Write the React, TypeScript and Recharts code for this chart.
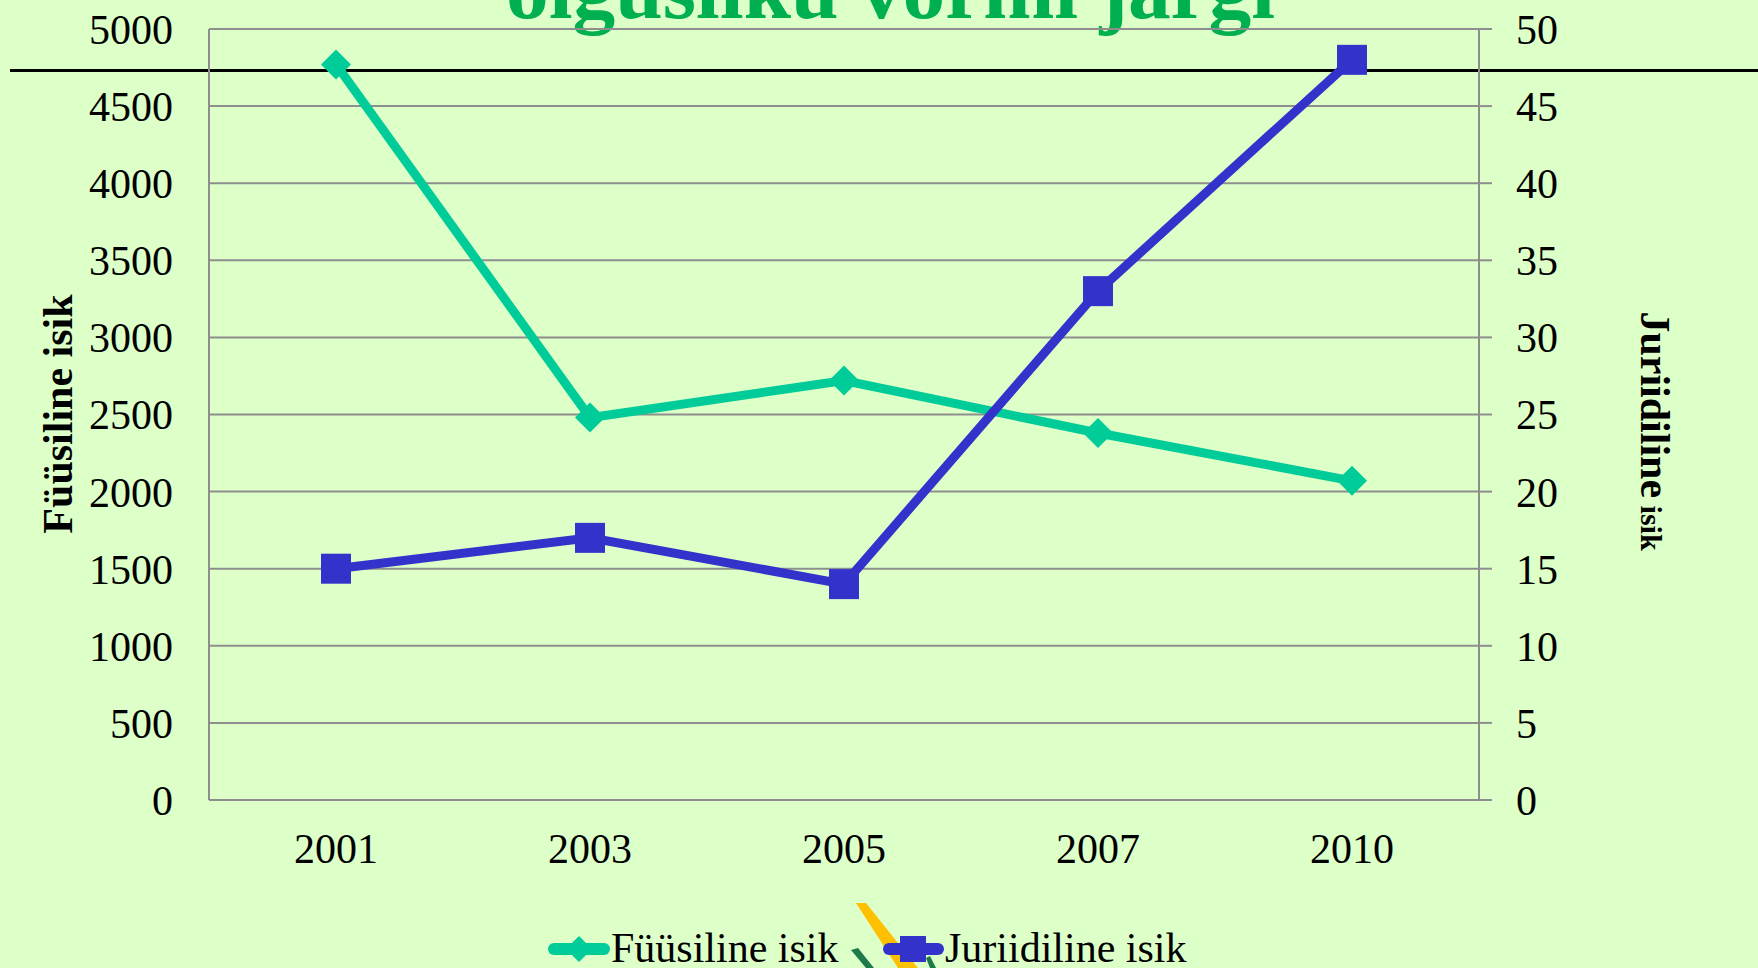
import React from 'react'
import {
  LineChart, Line, XAxis, YAxis, CartesianGrid,
} from 'recharts'

const years = ['2001', '2003', '2005', '2007', '2010']
const fyysiline = [4770, 2480, 2720, 2380, 2070]
const juriidiline = [15, 17, 14, 33, 48]
const leftTicks = [0, 500, 1000, 1500, 2000, 2500, 3000, 3500, 4000, 4500, 5000]
const rightTicks = [0, 5, 10, 15, 20, 25, 30, 35, 40, 45, 50]

const TEAL = '#00CC99'
const BLUE = '#3333CC'
const BG = '#DDFFC8'
const GRID = '#8E8E8E'
const FONT = '"Liberation Serif", "Times New Roman", serif'

const data = years.map((year, i) => ({
  year,
  fyysiline: fyysiline[i],
  juriidiline: juriidiline[i],
}))

function DiamondDot(props: any) {
  const { cx, cy, index } = props
  if (cx == null || cy == null) return null
  const r = 15
  return (
    <path
      key={`d-${index}`}
      d={`M${cx},${cy - r} L${cx + r},${cy} L${cx},${cy + r} L${cx - r},${cy} Z`}
      fill={TEAL}
    />
  )
}

function SquareDot(props: any) {
  const { cx, cy, index } = props
  if (cx == null || cy == null) return null
  const s = 30
  return <rect key={`s-${index}`} x={cx - s / 2} y={cy - s / 2} width={s} height={s} fill={BLUE} />
}

// slide decorations, axis titles and the legend, drawn behind the chart
function Backdrop() {
  return (
    <svg width={1758} height={968} style={{ position: 'absolute', left: 0, top: 0 }}>
      <rect x={0} y={0} width={1758} height={968} fill={BG} />
      <text
        x={506}
        y={18}
        fontFamily={FONT}
        fontWeight="bold"
        fontSize={84}
        fill="#00B050"
        textLength={769}
        lengthAdjust="spacingAndGlyphs"
      >
        õigusliku vormi järgi
      </text>
      <line x1={10} y1={70.5} x2={1758} y2={70.5} stroke="#000" strokeWidth={3} />
      <text
        x={72}
        y={414}
        transform="rotate(-90, 72, 414)"
        textAnchor="middle"
        fontFamily={FONT}
        fontWeight="bold"
        fontSize={42}
        fill="#000"
      >
        Füüsiline isik
      </text>
      <text
        x={1641}
        y={431}
        transform="rotate(90, 1641, 431)"
        textAnchor="middle"
        fontFamily={FONT}
        fontWeight="bold"
        fill="#000"
      >
        <tspan fontSize={42}>Juriidiline</tspan>
        <tspan fontSize={30}> isik</tspan>
      </text>
      {/* logo fragment */}
      <polygon points="856,903 866,903 918,968 898,968" fill="#FFC000" />
      <polygon points="851,950 858,948 874,968 866,968" fill="#1E7A4A" />
      <polygon points="926,958 930,956 936,968 930,968" fill="#1E7A4A" />
      {/* legend */}
      <line x1={554} y1={949} x2={604} y2={949} stroke={TEAL} strokeWidth={12} strokeLinecap="round" />
      <path d="M579,936 L592,949 L579,962 L566,949 Z" fill={TEAL} />
      <text x={611} y={962} fontFamily={FONT} fontSize={42} fill="#000">Füüsiline isik</text>
      <line x1={889} y1={949} x2={938} y2={949} stroke={BLUE} strokeWidth={12} strokeLinecap="round" />
      <rect x={900} y={936} width={26} height={26} fill={BLUE} />
      <text x={945} y={962} fontFamily={FONT} fontSize={42} fill="#000">Juriidiline isik</text>
    </svg>
  )
}

export default function App() {
  const tickStyle = { fontFamily: FONT, fontSize: 42, fill: '#000' }
  return (
    <div style={{ position: 'fixed', left: 0, top: 0, width: 1758, height: 968, background: BG, overflow: 'hidden' }}>
      <Backdrop />
      <div style={{ position: 'absolute', left: 0, top: 0 }}>
        <LineChart
          width={1758}
          height={968}
          data={data}
          margin={{ top: 29, right: 0, bottom: 0, left: 0 }}
        >
          <CartesianGrid yAxisId="left" vertical={false} stroke={GRID} strokeWidth={2} />
          <XAxis
            dataKey="year"
            height={168}
            padding={{ left: 127, right: 127 }}
            axisLine={{ stroke: GRID, strokeWidth: 2 }}
            tickLine={false}
            tickSize={0}
            tickMargin={33}
            tick={tickStyle}
            interval={0}
          />
          <YAxis
            yAxisId="left"
            width={209}
            domain={[0, 5000]}
            ticks={leftTicks}
            axisLine={{ stroke: GRID, strokeWidth: 2 }}
            tickLine={false}
            tickSize={0}
            tickMargin={36}
            tick={tickStyle}
            interval={0}
          />
          <YAxis
            yAxisId="right"
            orientation="right"
            width={279}
            domain={[0, 50]}
            ticks={rightTicks}
            axisLine={{ stroke: GRID, strokeWidth: 2 }}
            tickLine={{ stroke: GRID, strokeWidth: 2 }}
            tickSize={13}
            tickMargin={24}
            tick={{ ...tickStyle, textAnchor: 'start' }}
            interval={0}
          />
          <Line
            yAxisId="left"
            type="linear"
            dataKey="fyysiline"
            stroke={TEAL}
            strokeWidth={9}
            dot={DiamondDot}
            activeDot={false}
            isAnimationActive={false}
          />
          <Line
            yAxisId="right"
            type="linear"
            dataKey="juriidiline"
            stroke={BLUE}
            strokeWidth={9}
            dot={SquareDot}
            activeDot={false}
            isAnimationActive={false}
          />
        </LineChart>
      </div>
    </div>
  )
}
